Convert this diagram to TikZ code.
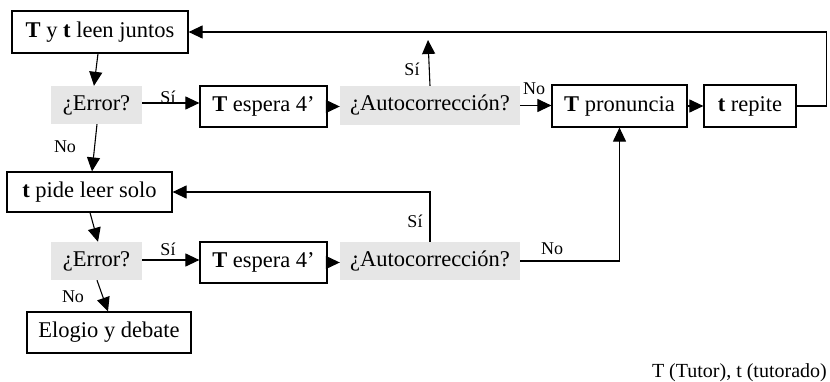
\documentclass[tikz,border=0pt]{standalone}
\usepackage{fontspec}
\setmainfont{Liberation Serif}
\usetikzlibrary{arrows.meta}
\definecolor{gbox}{HTML}{E6E6E6}
\begin{document}
\begin{tikzpicture}[x=1pt,y=-1pt,
  box/.style={draw,line width=1.2pt,inner sep=0pt,font=\fontsize{22.5}{27}\selectfont},
  qbox/.style={fill=gbox,inner sep=0pt,font=\fontsize{22.5}{27}\selectfont},
  arr/.style={line width=1.1pt,-{Triangle[length=14pt,width=13pt]}},
  lbl/.style={font=\fontsize{18}{21}\selectfont,inner sep=0pt},
  ln/.style={line width=1.1pt}]
\useasboundingbox (0,0) rectangle (830,382);
\node[box,minimum width=176pt,minimum height=42pt] (box1) at (100,32) {\textbf{T} y \textbf{t} leen juntos};
\node[qbox,minimum width=91pt,minimum height=38pt] (err1) at (96.5,105) {¿Error?};
\node[box,minimum width=127pt,minimum height=41pt] (te1) at (263.5,106.5) {\textbf{T} espera 4’};
\node[qbox,minimum width=180pt,minimum height=39pt] (au1) at (430,105.5) {¿Autocorrección?};
\node[box,minimum width=135pt,minimum height=42pt] (tp) at (619.5,106) {\textbf{T} pronuncia};
\node[box,minimum width=92pt,minimum height=42pt] (tr) at (750,106) {\textbf{t} repite};
\node[box,minimum width=165pt,minimum height=40pt] (tpi) at (89.5,192) {\textbf{t} pide leer solo};
\node[qbox,minimum width=91pt,minimum height=38pt] (err2) at (96.5,261) {¿Error?};
\node[box,minimum width=127pt,minimum height=41pt] (te2) at (263.5,262.5) {\textbf{T} espera 4’};
\node[qbox,minimum width=180pt,minimum height=38pt] (au2) at (430,261) {¿Autocorrección?};
\node[box,minimum width=164pt,minimum height=41pt] (elo) at (109,332.5) {Elogio y debate};
\node[lbl,font=\fontsize{20}{24}\selectfont,anchor=east] (foot) at (827,373) {T (Tutor), t (tutorado)};
\coordinate (s1) at (428,40);
% connectors
\draw[arr] ([xshift=-2pt]box1.south) -- ([xshift=-2.5pt]err1.north);
\draw[arr] ([xshift=0.5pt]err1.south) -- ([xshift=2.5pt]tpi.north);
\draw[arr] ([xshift=0.5pt]tpi.south) -- ([xshift=1.5pt]err2.north);
\draw[arr] ([xshift=0.5pt]err2.south) -- ([xshift=-1pt]elo.north);
\draw[arr] ([yshift=2pt]err1.east) -- ([yshift=2pt]err1.east -| te1.west);
\draw[arr] (te1.east) -- (te1.east -| au1.west);
\draw[arr] (au1.north) -- (s1);
\draw[arr] (au1.east) -- (au1.east -| tp.west);
\draw[arr] (tp.east) -- (tr.west);
\draw[arr] (tr.east) -- ++(30,0) |- (box1.east);
\draw[arr] ([yshift=1pt]err2.east) -- ([yshift=1pt]err2.east -| te2.west);
\draw[arr] (te2.east) -- (te2.east -| au2.west);
\draw[arr] (au2.north) |- (tpi.east);
\draw[arr] (au2.east) -| (tp.south);
% labels
\node[lbl] (l1) at (168,97) {Sí};
\node[lbl] (l2) at (412,69) {Sí};
\node[lbl] (l3) at (534,89) {No};
\node[lbl] (l4) at (65,147) {No};
\node[lbl] (l5) at (168,249) {Sí};
\node[lbl] (l6) at (415,221) {Sí};
\node[lbl] (l7) at (73,297) {No};
\node[lbl] (l8) at (552,249) {No};
\end{tikzpicture}
\end{document}
